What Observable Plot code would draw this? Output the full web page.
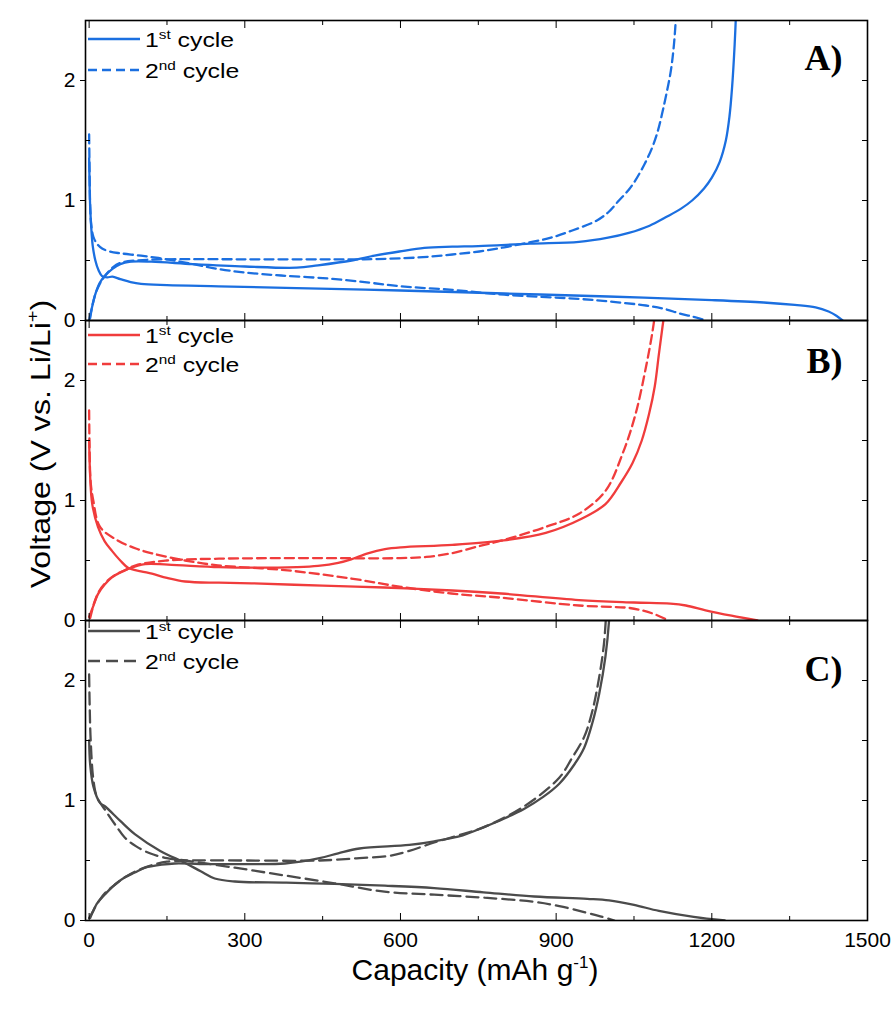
<!DOCTYPE html>
<html><head><meta charset="utf-8">
<script src="https://cdn.jsdelivr.net/npm/d3@7"></script>
<script src="https://cdn.jsdelivr.net/npm/@observablehq/plot@0.6"></script>
<style>
body{margin:0;background:#fff;}
#wrap{position:relative;width:895px;height:1033px;font-family:"Liberation Sans",Arial,sans-serif;color:#000;}
#wrap > svg{position:absolute;left:0;top:0;overflow:visible;}
.leg{position:absolute;left:88px;height:24px;display:flex;align-items:center;font-size:21px;line-height:1;white-space:nowrap;}
.leg svg{margin-right:5px;}
.leg span{display:inline-block;transform:scaleX(1.18);transform-origin:left center;}
.leg sup{font-size:13px;line-height:0;vertical-align:8px;}
#ylab{position:absolute;left:41px;top:444px;transform:translate(-50%,-50%) rotate(-90deg) scaleX(1.19);font-size:27px;white-space:nowrap;}
#xlab{position:absolute;left:475px;top:970px;transform:translate(-50%,-50%);font-size:30px;white-space:nowrap;}
#ylab sup,#xlab sup{font-size:17px;line-height:0;vertical-align:12px;}
</style></head><body><div id="wrap"></div>
<script>
// ---------- data: [capacity (mAh/g), voltage (V)] ----------
const panels = ["A", "B", "C"];
const panelLabels = ["A)", "B)", "C)"];
const panelColors = ["#1b6fe0", "#f03c3c", "#4b4b4b"];
const xTicksMajor = [0, 300, 600, 900, 1200, 1500];
const xTicksMinor = [150, 450, 750, 1050, 1350];
const yTicksMajor = [0, 1, 2];
const yTicksMinor = [0.5, 1.5];
const legendLabels = ["1st cycle", "2nd cycle"];

const A_c1_discharge = [[0,1.35],[1,1.1],[2,0.95],[4,0.78],[7,0.62],[12,0.5],[18,0.42],[25,0.37],[35,0.36],[45,0.365],[60,0.345],[80,0.32],[100,0.305],[150,0.295],[250,0.285],[400,0.27],[600,0.25],[800,0.225],[1000,0.2],[1200,0.17],[1300,0.15],[1360,0.13],[1400,0.11],[1425,0.075],[1440,0.04],[1452,0]];
const A_c1_charge = [[0,0],[5,0.1],[12,0.22],[20,0.31],[30,0.37],[45,0.43],[60,0.47],[80,0.49],[120,0.49],[200,0.47],[300,0.45],[400,0.44],[441,0.46],[506,0.5],[550,0.54],[598,0.575],[646,0.605],[700,0.615],[750,0.62],[850,0.64],[944,0.655],[1000,0.69],[1040,0.73],[1080,0.79],[1111,0.86],[1140,0.93],[1162,1.0],[1185,1.1],[1200,1.19],[1215,1.32],[1227,1.5],[1234,1.7],[1239,1.94],[1244,2.3],[1247,2.6]];
const A_c2_discharge = [[0,1.55],[1,1.2],[2,0.95],[4,0.8],[8,0.7],[15,0.64],[25,0.6],[40,0.575],[60,0.56],[100,0.54],[150,0.51],[200,0.47],[248,0.43],[300,0.4],[370,0.375],[460,0.35],[540,0.315],[600,0.285],[700,0.255],[800,0.215],[944,0.18],[1010,0.155],[1073,0.125],[1110,0.095],[1137,0.06],[1165,0.03],[1190,0]];
const A_c2_charge = [[2,0.02],[6,0.12],[12,0.22],[20,0.3],[30,0.37],[45,0.44],[60,0.48],[90,0.5],[150,0.51],[300,0.51],[450,0.51],[530,0.51],[633,0.525],[700,0.55],[752,0.575],[800,0.61],[848,0.65],[890,0.69],[931,0.75],[977,0.83],[1000,0.9],[1021,1.0],[1040,1.09],[1053,1.17],[1070,1.3],[1085,1.44],[1096,1.58],[1104,1.72],[1113,1.9],[1121,2.08],[1127,2.3],[1132,2.6]];

const B_c1_discharge = [[0,1.5],[2,1.2],[6,0.97],[17,0.78],[30,0.66],[44,0.58],[60,0.5],[75,0.44],[100,0.41],[121,0.39],[150,0.355],[185,0.325],[250,0.315],[313,0.31],[450,0.29],[569,0.275],[700,0.25],[794,0.225],[944,0.17],[1050,0.15],[1120,0.14],[1150,0.125],[1188,0.085],[1238,0.04],[1288,0]];
const B_c1_charge = [[0,0.03],[8,0.12],[17,0.22],[30,0.3],[44,0.36],[60,0.4],[75,0.43],[108,0.47],[152,0.465],[250,0.445],[313,0.44],[400,0.445],[441,0.455],[480,0.48],[505,0.51],[537,0.56],[570,0.595],[601,0.61],[700,0.63],[794,0.665],[880,0.73],[950,0.85],[995,0.97],[1025,1.15],[1047,1.31],[1065,1.5],[1079,1.72],[1090,1.95],[1098,2.22],[1105,2.45],[1110,2.6]];
const B_c2_discharge = [[0,1.75],[1,1.4],[3,1.15],[8,1.0],[21,0.78],[54,0.67],[90,0.6],[121,0.56],[185,0.5],[248,0.46],[377,0.42],[505,0.35],[601,0.28],[698,0.225],[794,0.19],[944,0.125],[1040,0.105],[1065,0.085],[1085,0.06],[1117,0]];
const B_c2_charge = [[2,0.02],[10,0.15],[20,0.25],[35,0.33],[50,0.38],[70,0.42],[90,0.46],[150,0.5],[250,0.515],[400,0.52],[600,0.52],[650,0.53],[698,0.56],[752,0.62],[794,0.665],[880,0.78],[944,0.89],[995,1.08],[1028,1.39],[1053,1.72],[1073,2.11],[1085,2.39],[1092,2.6]];

const C_c1_discharge = [[0,1.5],[2,1.3],[8,1.12],[21,0.98],[31,0.95],[60,0.83],[88,0.72],[137,0.58],[185,0.48],[215,0.41],[242,0.35],[281,0.325],[380,0.315],[473,0.305],[570,0.29],[665,0.27],[760,0.235],[858,0.2],[960,0.18],[1002,0.167],[1050,0.13],[1098,0.08],[1165,0.03],[1225,0]];
const C_c1_charge = [[0,0.02],[8,0.08],[15,0.14],[31,0.22],[50,0.3],[69,0.36],[88,0.4],[108,0.44],[140,0.465],[165,0.475],[233,0.47],[300,0.47],[377,0.475],[444,0.52],[480,0.56],[521,0.6],[617,0.63],[665,0.66],[720,0.71],[762,0.78],[800,0.85],[838,0.93],[875,1.03],[906,1.14],[935,1.3],[954,1.44],[970,1.65],[983,1.89],[995,2.2],[1002,2.5],[1004,2.7]];
const C_c2_discharge = [[0,2.05],[1,1.8],[3,1.5],[8,1.18],[15,1.03],[31,0.92],[50,0.8],[69,0.69],[90,0.62],[117,0.56],[150,0.52],[185,0.5],[281,0.44],[377,0.375],[473,0.31],[569,0.24],[665,0.215],[762,0.19],[858,0.155],[906,0.12],[954,0.07],[985,0.035],[1012,0]];
const C_c2_charge = [[2,0.02],[10,0.1],[20,0.17],[31,0.23],[50,0.3],[69,0.36],[90,0.41],[120,0.46],[150,0.49],[185,0.5],[300,0.5],[444,0.5],[521,0.52],[580,0.54],[617,0.58],[665,0.65],[720,0.72],[762,0.78],[838,0.95],[906,1.19],[930,1.35],[954,1.53],[970,1.75],[983,2.03],[992,2.3],[997,2.6]];

// ---------- build table ----------
const curves = [
  ["A","1st","dis",A_c1_discharge],["A","1st","chg",A_c1_charge],["A","2nd","dis",A_c2_discharge],["A","2nd","chg",A_c2_charge],
  ["B","1st","dis",B_c1_discharge],["B","1st","chg",B_c1_charge],["B","2nd","dis",B_c2_discharge],["B","2nd","chg",B_c2_charge],
  ["C","1st","dis",C_c1_discharge],["C","1st","chg",C_c1_charge],["C","2nd","dis",C_c2_discharge],["C","2nd","chg",C_c2_charge]
];
const rows = curves.flatMap(([panel, cycle, part, pts]) =>
  pts.map(([cap, volt]) => ({panel, cycle, id: panel + cycle + part, cap, volt})));
const labelRows = panels.map((p, i) => ({panel: p, label: panelLabels[i]}));

const W = 895, H = 1033, mT = 20, mB = 113, mL = 85, mR = 28;
const lineOpts = {x: "cap", y: "volt", z: "id", fy: "panel", stroke: "panel", strokeWidth: 2.3, curve: "catmull-rom", clip: true};
const letterFont = "'Liberation Serif', 'Times New Roman', serif";

const chart = Plot.plot({
  width: W, height: H,
  marginTop: mT, marginBottom: mB, marginLeft: mL, marginRight: mR,
  style: {fontFamily: "'Liberation Sans', Arial, sans-serif", fontSize: "20px", color: "#000", background: "transparent"},
  x: {domain: [-7, 1500]},
  y: {domain: [0, 2.5]},
  fy: {domain: panels, padding: 0, axis: null},
  color: {domain: panels, range: panelColors},
  marks: [
    Plot.line(rows.filter(d => d.cycle === "1st"), lineOpts),
    Plot.line(rows.filter(d => d.cycle === "2nd" && d.panel !== "C"), {...lineOpts, strokeDasharray: "9,5"}),
    Plot.line(rows.filter(d => d.cycle === "2nd" && d.panel === "C"), {...lineOpts, strokeDasharray: "12,6"}),
    Plot.frame({stroke: "#000", strokeWidth: 1.6}),
    // x ticks (inward) on every panel, top and bottom
    Plot.axisX({anchor: "bottom", ticks: xTicksMajor, tickSize: -7, tickFormat: () => "", label: null, facetAnchor: null}),
    Plot.axisX({anchor: "bottom", ticks: xTicksMinor, tickSize: -4, tickFormat: () => "", label: null, facetAnchor: null}),
    Plot.axisX({anchor: "top", ticks: xTicksMajor, tickSize: -7, tickFormat: () => "", label: null, facetAnchor: null}),
    Plot.axisX({anchor: "top", ticks: xTicksMinor, tickSize: -4, tickFormat: () => "", label: null, facetAnchor: null}),
    // x tick labels on the bottom panel
    Plot.axisX({anchor: "bottom", ticks: xTicksMajor, tickSize: 0, tickPadding: 12, tickFormat: d => String(d), label: null, fontSize: 21}),
    // y ticks
    Plot.axisY({anchor: "left", ticks: yTicksMajor, tickSize: 5, tickPadding: 5, tickFormat: d => String(d), label: null, fontSize: 21}),
    Plot.axisY({anchor: "left", ticks: yTicksMinor, tickSize: -5, tickFormat: () => "", label: null}),
    Plot.axisY({anchor: "right", ticks: yTicksMajor.concat(yTicksMinor), tickSize: -6, tickFormat: () => "", label: null}),
    // panel letters
    Plot.text(labelRows.filter(d => d.panel === "A"), {fy: "panel", text: "label", frameAnchor: "top-right", dx: -25, dy: 24, fontSize: 36, fontWeight: "bold", fontFamily: letterFont}),
    Plot.text(labelRows.filter(d => d.panel === "B"), {fy: "panel", text: "label", frameAnchor: "top-right", dx: -25, dy: 27, fontSize: 36, fontWeight: "bold", fontFamily: letterFont}),
    Plot.text(labelRows.filter(d => d.panel === "C"), {fy: "panel", text: "label", frameAnchor: "top-right", dx: -25, dy: 35, fontSize: 36, fontWeight: "bold", fontFamily: letterFont})
  ]
});

const wrap = document.getElementById("wrap");
wrap.appendChild(chart);

// legends (HTML overlay)
const legendRowsY = {A: [39, 70], B: [335, 364], C: [631, 661]};
panels.forEach((p, i) => {
  legendLabels.forEach((lab, j) => {
    const div = document.createElement("div");
    div.className = "leg";
    div.style.top = (legendRowsY[p][j] - 12) + "px";
    const dash = j === 0 ? "" : (p === "C" ? "12,6" : "9,5");
    const m = lab.match(/^(\d)(\w+) (.*)$/);
    div.innerHTML = `<svg width="52" height="6"><line x1="0" y1="3" x2="52" y2="3" stroke="${panelColors[i]}" stroke-width="2.6" ${dash ? `stroke-dasharray="${dash}"` : ""}/></svg><span>${m[1]}<sup>${m[2]}</sup> ${m[3]}</span>`;
    wrap.appendChild(div);
  });
});

const ylab = document.createElement("div");
ylab.id = "ylab";
ylab.innerHTML = "Voltage (V vs. Li/Li<sup>+</sup>)";
wrap.appendChild(ylab);
const xlab = document.createElement("div");
xlab.id = "xlab";
xlab.innerHTML = "Capacity (mAh g<sup>-1</sup>)";
wrap.appendChild(xlab);
</script></body></html>
